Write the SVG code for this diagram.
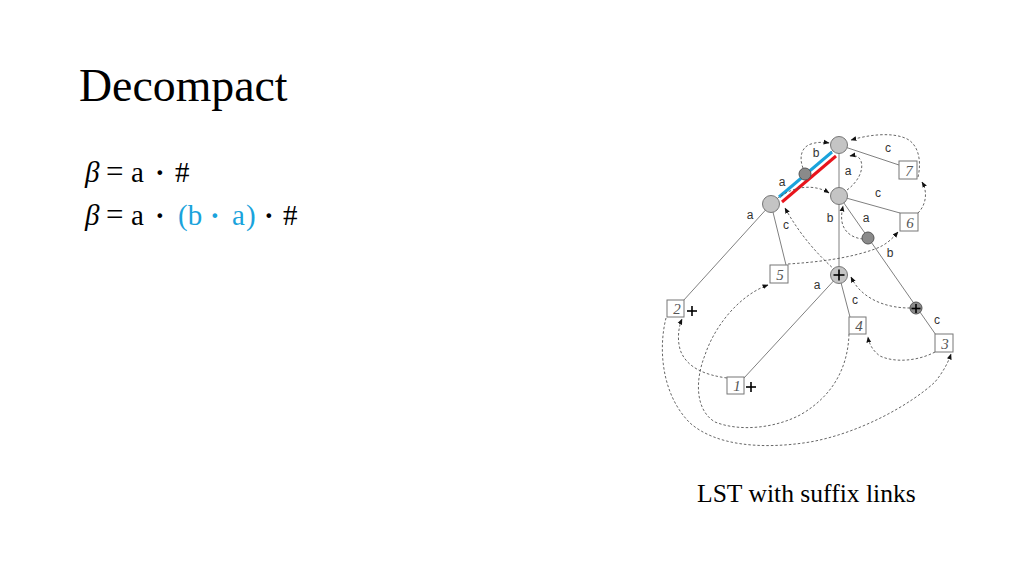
<svg xmlns="http://www.w3.org/2000/svg" width="1024" height="576" viewBox="0 0 1024 576">
<defs>
<marker id="ah" viewBox="0 0 10 10" refX="9" refY="5" markerWidth="6" markerHeight="6" orient="auto" markerUnits="userSpaceOnUse">
<path d="M0,1 L10,5 L0,9 z" fill="#111"/>
</marker>
</defs>
<style>
.title{font-family:"Liberation Serif",serif;font-size:45.8px;fill:#000}
.f{font-family:"Liberation Serif",serif;font-size:29px;fill:#000}
.eq{font-size:31px}
.blue{fill:#1aa3dc}
.cap{font-family:"Liberation Serif",serif;font-size:25.6px;fill:#000}
.edge{stroke:#808080;stroke-width:1;fill:none}
.link{stroke:#555;stroke-width:0.9;stroke-dasharray:2.5,2;fill:none;marker-end:url(#ah)}
.node{fill:#c4c4c4;stroke:#777;stroke-width:1}
.dark{fill:#8a8a8a;stroke:#555;stroke-width:1}
.leaf{fill:#fff;stroke:#777;stroke-width:1}
.num{font-family:"Liberation Serif",serif;font-style:italic;font-size:15px;fill:#555;text-anchor:middle}
.lbl{font-family:"Liberation Sans",sans-serif;font-size:12px;fill:#333;text-anchor:middle}
.plus{stroke:#000;stroke-width:1.6}
</style>
<rect width="1024" height="576" fill="#fff"/>
<text class="title" x="79" y="101">Decompact</text>
<g id="formula1">
<text class="f" x="85" y="182" font-style="italic">β</text>
<text class="f eq" x="106" y="182">=</text>
<text class="f" x="131" y="182">a</text>
<text class="f" x="155" y="182" font-weight="bold">·</text>
<text class="f" x="175" y="182">#</text>
</g>
<g id="formula2">
<text class="f" x="85" y="225" font-style="italic">β</text>
<text class="f eq" x="106" y="225">=</text>
<text class="f" x="131" y="225">a</text>
<text class="f" x="155" y="225" font-weight="bold">·</text>
<text class="f blue" x="178" y="225">(b</text>
<text class="f blue" x="210" y="225" font-weight="bold">·</text>
<text class="f blue" x="232" y="225">a</text>
<text class="f blue" x="246" y="225">)</text>
<text class="f" x="264" y="225" font-weight="bold">·</text>
<text class="f" x="283" y="225">#</text>
</g>
<g id="edges">
<line class="edge" x1="839" y1="145" x2="899" y2="165"/>
<line class="edge" x1="839" y1="145" x2="839" y2="196"/>
<line class="edge" x1="839" y1="145" x2="771" y2="204"/>
<line class="edge" x1="839" y1="196" x2="900" y2="213"/>
<line class="edge" x1="839" y1="196" x2="839" y2="275"/>
<line class="edge" x1="839" y1="196" x2="936" y2="335"/>
<line class="edge" x1="771" y1="204" x2="683" y2="301"/>
<line class="edge" x1="771" y1="204" x2="786" y2="265"/>
<line class="edge" x1="839" y1="275" x2="744" y2="378"/>
<line class="edge" x1="839" y1="275" x2="850" y2="317"/>
</g>
<g id="highlight">
<line x1="779" y1="197" x2="832" y2="152" stroke="#1aa3dc" stroke-width="3"/>
<line x1="782" y1="202" x2="836" y2="156" stroke="#e8141c" stroke-width="3"/>
</g>
<g id="links">
<path class="link" d="M918,177 C922,160 918,143 905,138 C890,132 868,135 851,140"/>
<path class="link" d="M803,168 C799,158 801,147 811,144 C817,142 823,142 829,143"/>
<path class="link" d="M847,190 C858,182 864,170 861,161 C859,156 855,155 850,156"/>
<path class="link" d="M918,213 C926,205 928,192 922,182"/>
<path class="link" d="M781,196 C795,186 815,184 829,193"/>
<path class="link" d="M863,239 C852,238 844,232 842,222 C841,216 842,211 843,206"/>
<path class="link" d="M788,264 C820,262 850,258 875,249 C886,245 892,239 898,232"/>
<path class="link" d="M835,270 C818,255 800,235 785,208"/>
<path class="link" d="M910,308 C890,308 872,302 860,290 C856,286 853,281 851,277"/>
<path class="link" d="M935,352 C918,361 895,363 880,356 C873,351 869,344 868,337"/>
<path class="link" d="M849,334 C848,365 835,395 800,415 C775,428 740,432 715,422 C695,410 695,380 705,355 C715,325 740,295 768,285"/>
<path class="link" d="M727,378 C705,375 688,368 681,352 C677,342 678,328 682,319"/>
<path class="link" d="M666,318 C658,350 662,395 690,423 C715,445 760,450 810,442 C860,433 910,405 935,382 C943,372 948,363 951,354"/>
</g>
<g id="root"><circle class="node" cx="839" cy="145" r="8.5"/></g>
<g id="n_b"><circle class="dark" cx="805" cy="174" r="6"/></g>
<g id="n_a"><circle class="node" cx="771" cy="204" r="8.5"/></g>
<g id="n_ab"><circle class="node" cx="839" cy="196" r="8.5"/></g>
<g id="n_aba"><circle class="dark" cx="868" cy="238" r="6"/></g>
<g id="n_plus"><circle class="node" cx="839" cy="275" r="8.5"/>
<line class="plus" x1="833.5" y1="275" x2="844.5" y2="275"/><line class="plus" x1="839" y1="269.5" x2="839" y2="280.5"/></g>
<g id="n_dplus"><circle class="dark" cx="916" cy="308" r="6"/>
<line class="plus" x1="911.5" y1="308.5" x2="920.5" y2="308.5"/><line class="plus" x1="916" y1="304" x2="916" y2="313"/></g>
<g id="leaf7"><rect class="leaf" x="899" y="161" width="18" height="18"/><text class="num" x="909" y="176">7</text></g>
<g id="leaf6"><rect class="leaf" x="900" y="213" width="18" height="18"/><text class="num" x="910" y="228">6</text></g>
<g id="leaf5"><rect class="leaf" x="770" y="265" width="18" height="18"/><text class="num" x="780" y="280">5</text></g>
<g id="leaf2"><rect class="leaf" x="667" y="300" width="17" height="17"/><text class="num" x="677" y="314">2</text>
<line class="plus" x1="687" y1="311" x2="697" y2="311"/><line class="plus" x1="692" y1="306" x2="692" y2="316"/></g>
<g id="leaf4"><rect class="leaf" x="849" y="317" width="17" height="17"/><text class="num" x="859" y="331">4</text></g>
<g id="leaf3"><rect class="leaf" x="935" y="334" width="18" height="18"/><text class="num" x="945" y="349">3</text></g>
<g id="leaf1"><rect class="leaf" x="727" y="377" width="17" height="17"/><text class="num" x="737" y="391">1</text>
<line class="plus" x1="746" y1="387" x2="756" y2="387"/><line class="plus" x1="751" y1="382" x2="751" y2="392"/></g>
<g id="labels">
<text class="lbl" x="816" y="157">b</text>
<text class="lbl" x="888" y="152">c</text>
<text class="lbl" x="848" y="175">a</text>
<text class="lbl" x="782" y="186">a</text>
<text class="lbl" x="878" y="197">c</text>
<text class="lbl" x="750" y="219">a</text>
<text class="lbl" x="786" y="229">c</text>
<text class="lbl" x="830" y="222">b</text>
<text class="lbl" x="866" y="222">a</text>
<text class="lbl" x="890" y="257">b</text>
<text class="lbl" x="817" y="289">a</text>
<text class="lbl" x="855" y="304">c</text>
<text class="lbl" x="937" y="324">c</text>
</g>
<text class="cap" x="697" y="502">LST with suffix links</text>
</svg>
